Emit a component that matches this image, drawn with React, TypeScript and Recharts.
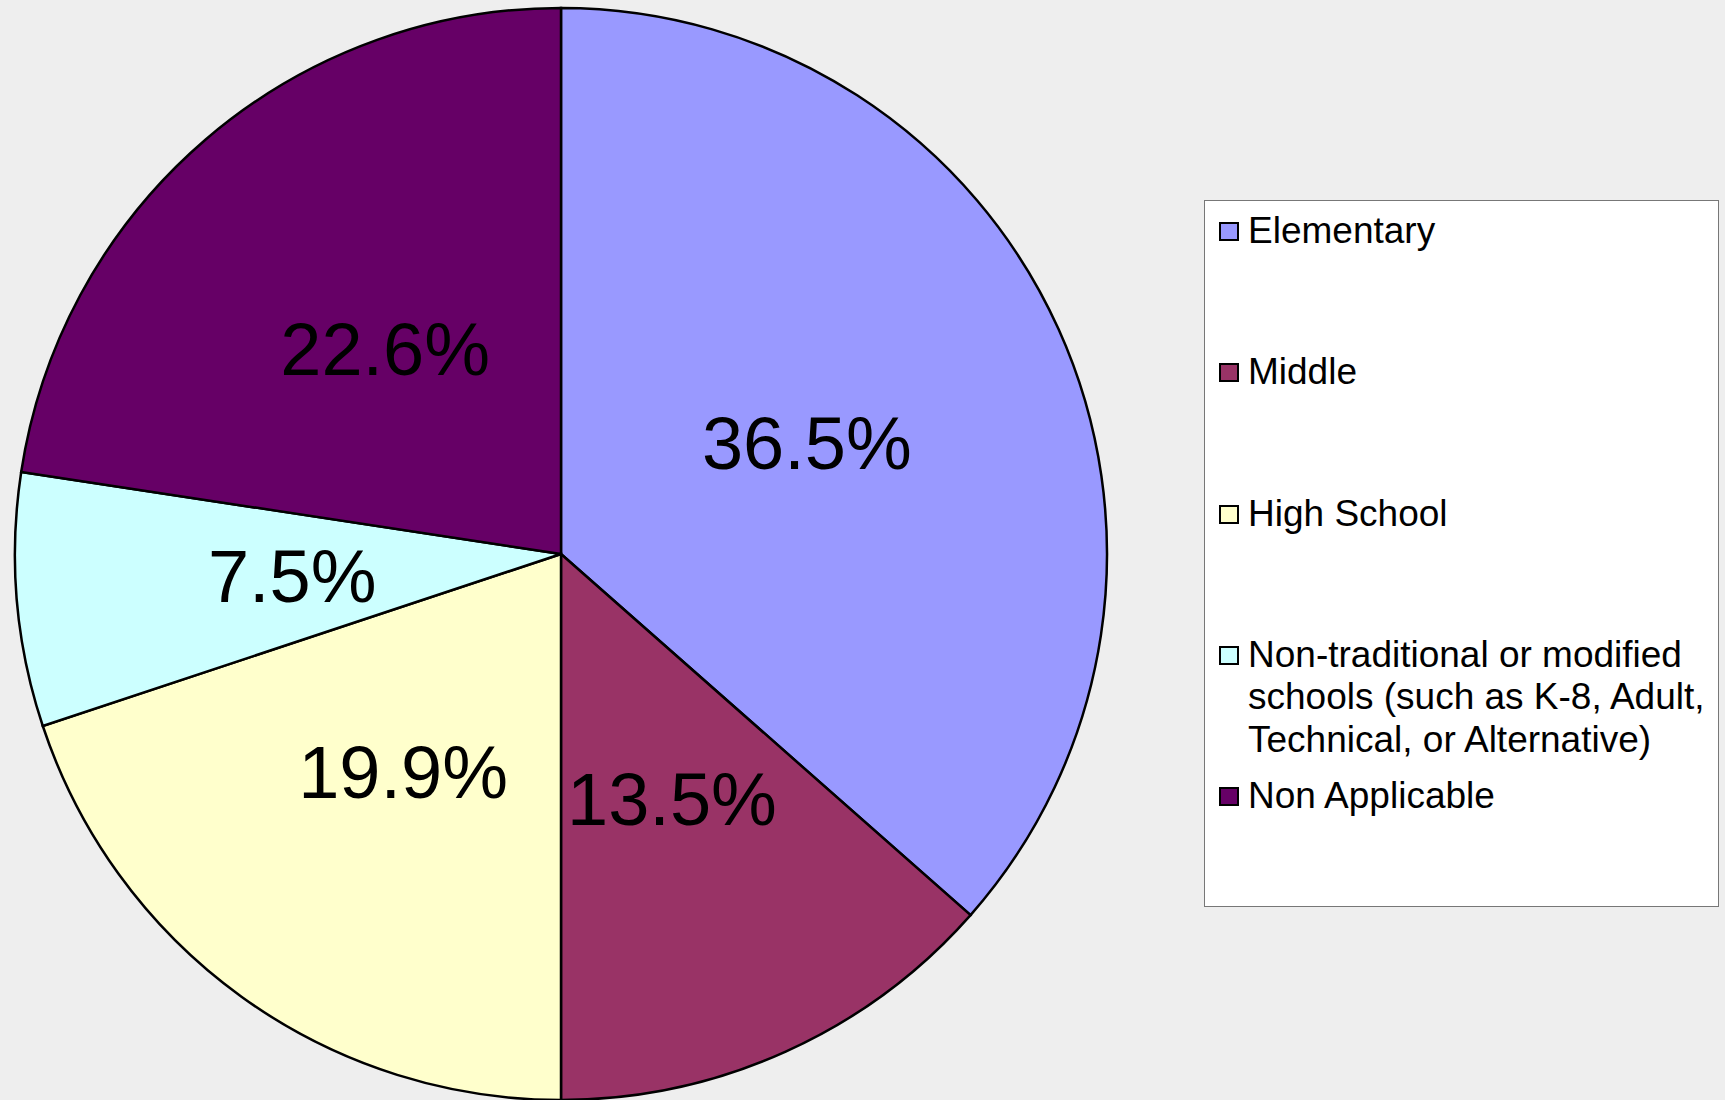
import { PieChart, Pie, Cell, Legend } from 'recharts'

const LABELS = [
  'Elementary',
  'Middle',
  'High School',
  'Non-traditional or modified schools (such as K-8, Adult, Technical, or Alternative)',
  'Non Applicable',
]
const VALUES = [36.5, 13.5, 19.9, 7.5, 22.6]
const COLORS = ['#9999FF', '#993366', '#FFFFCC', '#CCFFFF', '#660066']

const data = LABELS.map((name, i) => ({ name, value: VALUES[i] }))

const FONT = '"Liberation Sans", Arial, sans-serif'
const RAD = Math.PI / 180

function renderLabel(props: any) {
  const { cx, cy, midAngle, outerRadius, value } = props
  const r = outerRadius * 0.494
  const x = cx + r * Math.cos(-midAngle * RAD)
  const y = cy + r * Math.sin(-midAngle * RAD)
  return (
    <text x={x} y={y} fill="#000" fontSize={74} fontFamily={FONT} textAnchor="middle" dominantBaseline="central">
      {value.toFixed(1)}%
    </text>
  )
}

function LegendBox() {
  return (
    <div
      style={{
        position: 'relative',
        width: 515,
        height: 707,
        boxSizing: 'border-box',
        background: '#fff',
        border: '1px solid #777',
        fontFamily: FONT,
      }}
    >
      {LABELS.map((label, i) => (
        <div key={label} style={{ position: 'absolute', left: 0, top: 9 + i * 141.3, width: 515 }}>
          <div
            style={{
              position: 'absolute',
              left: 14,
              top: 12,
              width: 20,
              height: 19,
              boxSizing: 'border-box',
              background: COLORS[i],
              border: '2px solid #000',
            }}
          />
          <div
            style={{
              position: 'absolute',
              left: 43,
              top: 0,
              width: 470,
              fontSize: 37,
              lineHeight: '42.4px',
              color: '#000',
            }}
          >
            {label}
          </div>
        </div>
      ))}
    </div>
  )
}

export default function App() {
  return (
    <div style={{ position: 'absolute', left: 0, top: 0, width: 1725, height: 1100, background: '#EEEEEE' }}>
      <PieChart width={1725} height={1100} margin={{ top: 0, right: 0, bottom: 0, left: 0 }}>
        <Pie
          data={data}
          dataKey="value"
          nameKey="name"
          cx={561}
          cy={554}
          outerRadius={546}
          startAngle={90}
          endAngle={-270}
          stroke="#000"
          strokeWidth={2.5}
          label={renderLabel}
          labelLine={false}
          isAnimationActive={false}
        >
          {data.map((_, i) => (
            <Cell key={i} fill={COLORS[i]} />
          ))}
        </Pie>
        <Legend
          layout="vertical"
          align="right"
          verticalAlign="top"
          content={() => <LegendBox />}
          wrapperStyle={{ position: 'absolute', left: 1204, top: 200, width: 515, height: 707 }}
        />
      </PieChart>
    </div>
  )
}
